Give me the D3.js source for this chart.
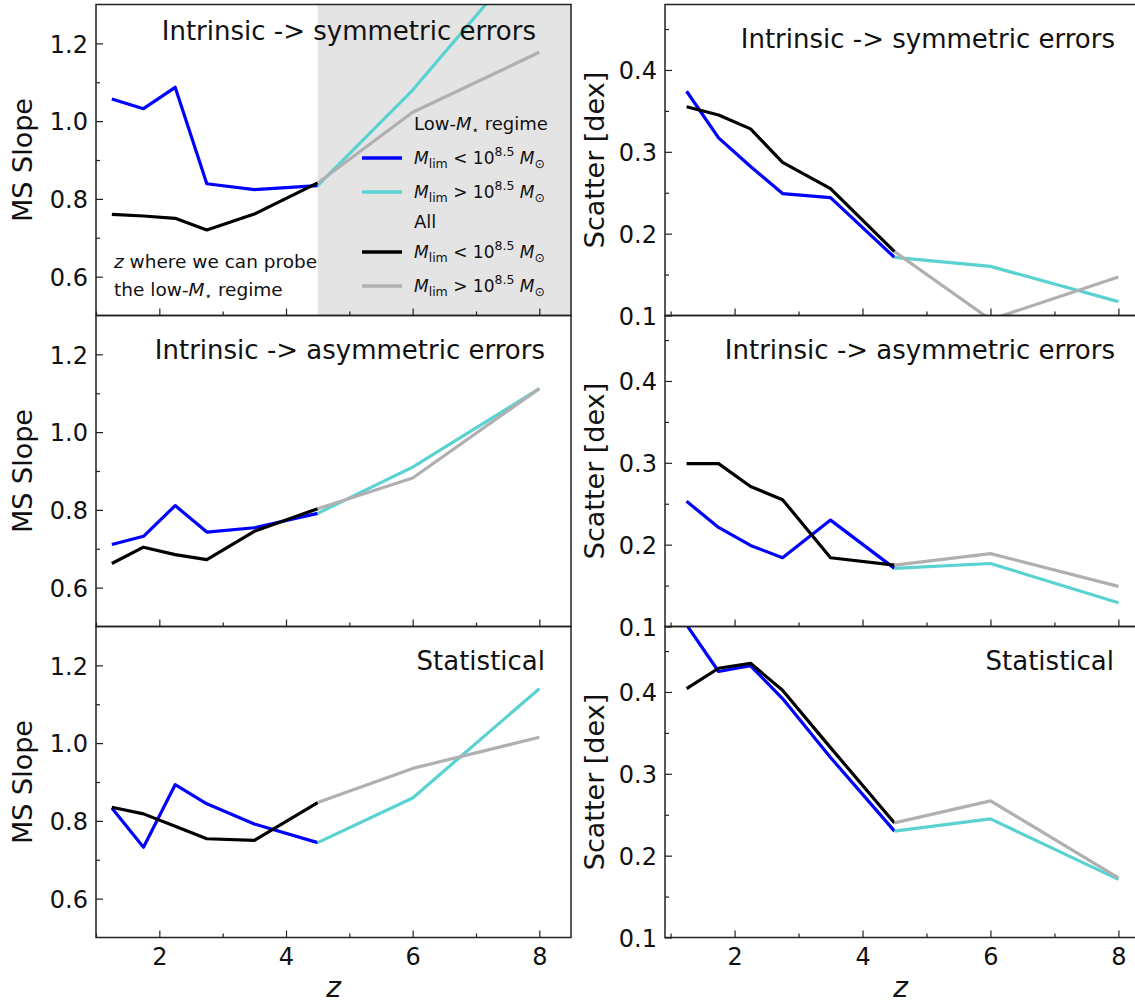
<!DOCTYPE html>
<meta charset="utf-8">
<script src="https://d3js.org/d3.v7.min.js"></script>
<style>
  body { margin: 0; background: #fff; }
  text { font-family: "DejaVu Sans", sans-serif; fill: #111; }
</style>
<body>
<svg id="chart" width="1135" height="1006"></svg>
<script>

// redshift bins
var zLow  = [1.25, 1.75, 2.25, 2.75, 3.5, 4.5];
var zHigh = [4.5, 6, 8];

// Intrinsic -> symmetric errors
var slopeSymLowLim  = [1.057, 1.032, 1.087, 0.839, 0.824, 0.834];
var slopeSymHighLim = [0.834, 1.080, 1.462];
var slopeSymAllLow  = [0.760, 0.756, 0.750, 0.720, 0.761, 0.841];
var slopeSymAllHigh = [0.841, 1.023, 1.177];
var scatSymLowLim   = [0.374, 0.317, 0.282, 0.249, 0.244, 0.171];
var scatSymHighLim  = [0.171, 0.160, 0.117];
var scatSymAllLow   = [0.355, 0.345, 0.328, 0.287, 0.255, 0.178];
var scatSymAllHigh  = [0.178, 0.095, 0.147];

// Intrinsic -> asymmetric errors
var slopeAsymLowLim  = [0.711, 0.732, 0.811, 0.743, 0.754, 0.791];
var slopeAsymHighLim = [0.791, 0.910, 1.112];
var slopeAsymAllLow  = [0.662, 0.704, 0.685, 0.672, 0.745, 0.803];
var slopeAsymAllHigh = [0.803, 0.882, 1.112];
var scatAsymLowLim   = [0.253, 0.221, 0.199, 0.184, 0.230, 0.171];
var scatAsymHighLim  = [0.171, 0.177, 0.129];
var scatAsymAllLow   = [0.299, 0.299, 0.271, 0.255, 0.184, 0.175];
var scatAsymAllHigh  = [0.175, 0.189, 0.149];

// Statistical
var slopeStatLowLim  = [0.833, 0.732, 0.893, 0.844, 0.792, 0.744];
var slopeStatHighLim = [0.744, 0.859, 1.140];
var slopeStatAllLow  = [0.835, 0.818, 0.786, 0.754, 0.750, 0.847];
var slopeStatAllHigh = [0.847, 0.935, 1.015];
var scatStatLowLim   = [0.482, 0.425, 0.432, 0.392, 0.320, 0.230];
var scatStatHighLim  = [0.230, 0.245, 0.171];
var scatStatAllLow   = [0.404, 0.429, 0.435, 0.402, 0.332, 0.240];
var scatStatAllHigh  = [0.240, 0.267, 0.173];

var titles = ["Intrinsic -> symmetric errors", "Intrinsic -> asymmetric errors", "Statistical"];
var slopeTicks = [0.6, 0.8, 1.0, 1.2], slopeMinor = [0.7, 0.9, 1.1];
var scatTicks = [0.1, 0.2, 0.3, 0.4], scatMinor = [0.15, 0.25, 0.35, 0.45];
var zTicks = [2, 4, 6, 8], zMinor = [1, 3, 5, 7];

var colors = { lowLim: "#0000ff", highLim: "#5ad2d2", allLow: "#000000", allHigh: "#b0b0b0" };

var svg = d3.select("#chart");

// layout
var cols = [[96, 571], [665, 1140]];
var rows = [[4.5, 315.5], [315.5, 626.5], [626.5, 937.5]];

var xL = d3.scaleLinear().domain([1, 8.5]).range(cols[0]);
var xR = d3.scaleLinear().domain([0.9125, 8.3375]).range(cols[1]);

var slopeData = [
  [slopeSymLowLim, slopeSymHighLim, slopeSymAllLow, slopeSymAllHigh],
  [slopeAsymLowLim, slopeAsymHighLim, slopeAsymAllLow, slopeAsymAllHigh],
  [slopeStatLowLim, slopeStatHighLim, slopeStatAllLow, slopeStatAllHigh]
];
var scatData = [
  [scatSymLowLim, scatSymHighLim, scatSymAllLow, scatSymAllHigh],
  [scatAsymLowLim, scatAsymHighLim, scatAsymAllLow, scatAsymAllHigh],
  [scatStatLowLim, scatStatHighLim, scatStatAllLow, scatStatAllHigh]
];

// title positions (right edge, baseline)
var titlePos = [
  [[536, 40], [1115, 48]],
  [[545, 359], [1115, 359]],
  [[545, 670], [1114, 670]]
];

function drawPanel(r, c) {
  var x = c == 0 ? xL : xR;
  var row = rows[r];
  var y = c == 0
    ? d3.scaleLinear().domain([0.5, 1.3]).range([row[1], row[0]])
    : d3.scaleLinear().domain([0.1, 0.48]).range([row[1], row[0]]);
  var x0 = cols[c][0], x1 = cols[c][1];
  var g = svg.append("g");
  var clipId = "clip" + r + c;

  g.append("clipPath").attr("id", clipId)
    .append("rect").attr("x", x0).attr("y", row[0])
    .attr("width", x1 - x0).attr("height", row[1] - row[0]);

  // shaded z-range on the first panel
  if (r == 0 && c == 0) {
    g.append("rect")
      .attr("x", x(4.5)).attr("y", row[0])
      .attr("width", x(8.5) - x(4.5)).attr("height", row[1] - row[0])
      .attr("fill", "#e4e4e4");
  }

  var set = c == 0 ? slopeData[r] : scatData[r];
  var lineGen = d3.line().x(function(d) { return x(d[0]); }).y(function(d) { return y(d[1]); });
  var series = [
    { z: zLow, v: set[0], col: colors.lowLim },
    { z: zHigh, v: set[1], col: colors.highLim },
    { z: zLow, v: set[2], col: colors.allLow },
    { z: zHigh, v: set[3], col: colors.allHigh }
  ];
  var lines = g.append("g").attr("clip-path", "url(#" + clipId + ")");
  series.forEach(function(s) {
    lines.append("path")
      .datum(d3.zip(s.z, s.v))
      .attr("d", lineGen)
      .attr("fill", "none")
      .attr("stroke", s.col)
      .attr("stroke-width", 3.2)
      .attr("stroke-linejoin", "round");
  });

  // axes (ticks point inward)
  var yAx = g.append("g").attr("transform", "translate(" + x0 + ",0)")
    .call(d3.axisLeft(y).tickValues(c == 0 ? slopeTicks : scatTicks)
      .tickSize(-7).tickSizeOuter(0).tickPadding(8).tickFormat(d3.format(".1f")));
  g.append("g").attr("transform", "translate(" + x0 + ",0)")
    .call(d3.axisLeft(y).tickValues(c == 0 ? slopeMinor : scatMinor)
      .tickSize(-4).tickSizeOuter(0).tickFormat(""));
  var xAx = g.append("g").attr("transform", "translate(0," + row[1] + ")")
    .call(d3.axisBottom(x).tickValues(zTicks).tickSize(-7).tickSizeOuter(0)
      .tickPadding(10).tickFormat(r == 2 ? d3.format("d") : ""));
  g.append("g").attr("transform", "translate(0," + row[1] + ")")
    .call(d3.axisBottom(x).tickValues(zMinor).tickSize(-4).tickSizeOuter(0).tickFormat(""));

  g.selectAll(".domain").remove();
  g.selectAll(".tick line").attr("stroke", "#222").attr("stroke-width", 1.2);
  g.selectAll(".tick text").attr("font-size", 24).attr("font-family", "DejaVu Sans").attr("fill", "#111");
  yAx.selectAll(".tick text").attr("dy", "0.36em");
  xAx.selectAll(".tick text").attr("dy", "0.72em");

  g.append("rect")
    .attr("x", x0).attr("y", row[0])
    .attr("width", x1 - x0).attr("height", row[1] - row[0])
    .attr("fill", "none").attr("stroke", "#222").attr("stroke-width", 1.5);

  var tp = titlePos[r][c];
  g.append("text").attr("x", tp[0]).attr("y", tp[1])
    .attr("text-anchor", "end").attr("font-size", 26).text(titles[r]);

  // y labels
  var ly = (row[0] + row[1]) / 2;
  g.append("text")
    .attr("transform", "translate(" + (c == 0 ? 32 : 604) + "," + ly + ") rotate(-90)")
    .attr("text-anchor", "middle").attr("font-size", 27)
    .text(c == 0 ? "MS Slope" : "Scatter [dex]");

  if (r == 2) {
    g.append("text").attr("x", (x0 + x1) / 2 - (c == 0 ? 0 : 2)).attr("y", 997)
      .attr("text-anchor", "middle").attr("font-size", 28).attr("font-style", "italic").text("z");
  }
}

for (var r = 0; r < 3; r++) {
  drawPanel(r, 0);
  drawPanel(r, 1);
}

// annotation in the first panel
var note = svg.append("g").attr("font-size", 18.5);
var n1 = note.append("text").attr("x", 114).attr("y", 268);
n1.append("tspan").attr("font-style", "italic").text("z");
n1.append("tspan").text(" where we can probe");
var n2 = note.append("text").attr("x", 114).attr("y", 296);
n2.append("tspan").text("the low-");
n2.append("tspan").attr("font-style", "italic").text("M");
n2.append("tspan").attr("font-size", 12).attr("dy", 4).text("\u22c6");
n2.append("tspan").attr("dy", -4).text(" regime");

// legend
var legend = svg.append("g").attr("font-size", 17);
function mathLabel(yb, op) {
  var t = legend.append("text").attr("x", 414).attr("y", yb);
  t.append("tspan").attr("font-style", "italic").text("M");
  t.append("tspan").attr("font-size", 12.5).attr("dy", 4).text("lim");
  t.append("tspan").attr("dy", -4).text(" " + op + " 10");
  t.append("tspan").attr("font-size", 12.5).attr("dy", -8).text("8.5");
  t.append("tspan").attr("dy", 8).attr("font-style", "italic").text(" M");
  t.append("tspan").attr("font-size", 12.5).attr("dy", 4).text("\u2299");
}
var h1 = legend.append("text").attr("x", 414).attr("y", 130).attr("font-size", 18);
h1.append("tspan").text("Low-");
h1.append("tspan").attr("font-style", "italic").text("M");
h1.append("tspan").attr("font-size", 12).attr("dy", 4).text("\u22c6");
h1.append("tspan").attr("dy", -4).text(" regime");
legend.append("text").attr("x", 414).attr("y", 228).attr("font-size", 18).text("All");

var legendRows = [
  { y: 158, col: colors.lowLim, op: "<" },
  { y: 192, col: colors.highLim, op: ">" },
  { y: 252, col: colors.allLow, op: "<" },
  { y: 286, col: colors.allHigh, op: ">" }
];
legendRows.forEach(function(d) {
  legend.append("line").attr("x1", 362).attr("x2", 402).attr("y1", d.y).attr("y2", d.y)
    .attr("stroke", d.col).attr("stroke-width", 3.4);
  mathLabel(d.y + 6, d.op);
});

</script>
</body>
